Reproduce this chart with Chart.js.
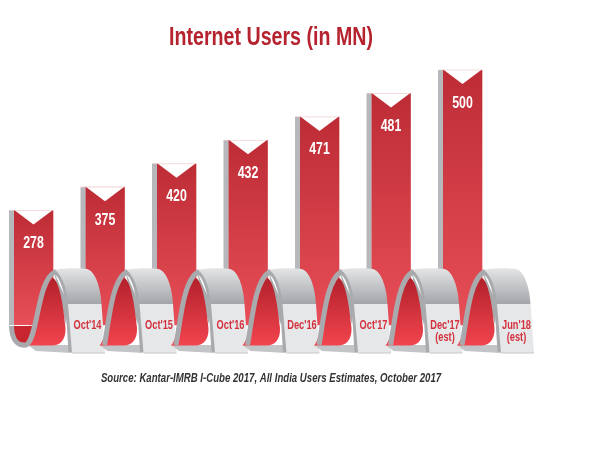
<!DOCTYPE html>
<html><head><meta charset="utf-8">
<style>html,body{margin:0;padding:0;background:#fff}#w{width:600px;height:450px}</style>
<script src="https://cdn.jsdelivr.net/npm/chart.js@4"></script>
</head><body><div id="w"><canvas id="c" width="600" height="450"></canvas></div>
<script>
const periods = [["Oct'14"], ["Oct'15"], ["Oct'16"], ["Dec'16"], ["Oct'17"], ["Dec'17","(est)"], ["Jun'18","(est)"], ""];
const users = [278, 375, 420, 432, 471, 481, 500];
const titleText = "Internet Users (in MN)";
const sourceText = "Source: Kantar-IMRB I-Cube 2017, All India Users Estimates, October 2017";

const FACE = "'Liberation Sans',sans-serif";
const CONDENSE = 0.77;

// The infographic raises each column one equal step, whatever its value.
class StepScale extends Chart.LinearScale {
  level(v) {
    const s = [...users].sort((a, b) => a - b), lead = 4.89;
    if (v <= s[0]) return v / s[0] * lead;
    for (let i = 1; i < s.length; i++)
      if (v <= s[i]) return lead + i - 1 + (v - s[i-1]) / (s[i] - s[i-1]);
    return lead + s.length - 1;
  }
  getPixelForValue(v) {
    return this.bottom - (this.bottom - this.top) * this.level(v) / (4.89 + users.length - 1);
  }
}
StepScale.id = 'step';
StepScale.defaults = Chart.LinearScale.defaults;
Chart.register(StepScale);

function vGrad(ctx, y0, y1, c0, c1) {
  const g = ctx.createLinearGradient(0, y0, 0, y1);
  g.addColorStop(0, c0); g.addColorStop(1, c1);
  return g;
}

// No condensed face is installed, so every text is squeezed horizontally about its anchor.
const condensed = {
  id: 'condensed',
  beforeInit(chart) {
    const ctx = chart.ctx, fill = ctx.fillText;
    ctx.fillText = function (t, x, y) {
      this.save(); this.translate(x, y); this.scale(CONDENSE, 1);
      fill.call(this, t, 0, 0);
      this.restore();
    };
  }
};

const ribbon = {
  id: 'ribbon',
  afterDatasetsDraw(chart) {
    const ctx = chart.ctx, bars = chart.getDatasetMeta(0).data, bottom = chart.chartArea.bottom;
    ctx.save();
    bars.forEach((b, i) => {
      const l = b.x - 19.5, r = b.x + 19.5, t = b.y;
      ctx.fillStyle = '#b7b8bb';
      ctx.fillRect(l - 5, t, 5, bottom - t);
      ctx.fillStyle = '#fff';
      ctx.beginPath(); ctx.moveTo(l - 0.5, t - 1); ctx.lineTo(b.x, t + 14); ctx.lineTo(r + 0.5, t - 1); ctx.closePath(); ctx.fill();
      ctx.strokeStyle = 'rgba(235,170,175,.55)'; ctx.lineWidth = 0.8;
      ctx.beginPath(); ctx.moveTo(l - 5, t); ctx.lineTo(r, t); ctx.stroke();
      ctx.fillStyle = '#fff';
      ctx.font = "bold 16px " + FACE;
      ctx.textAlign = 'center'; ctx.textBaseline = 'middle';
      ctx.fillText(String(users[i]), b.x, t + 33);
    });
    bars.forEach((b, i) => {
      ctx.save();
      ctx.translate(b.x - 33.5, bottom - 325);
      ctx.fillStyle = '#fff';
      ctx.beginPath(); ctx.moveTo(54, 272); ctx.lineTo(68, 304); ctx.lineTo(72, 346); ctx.lineTo(60, 346); ctx.closePath(); ctx.fill();
      ctx.fillStyle = '#c3c4c7';
      ctx.beginPath(); ctx.moveTo(28, 345); ctx.lineTo(70, 345); ctx.lineTo(72, 353); ctx.lineTo(36, 351); ctx.closePath(); ctx.fill();
      if (i === 0) {
        ctx.fillStyle = '#c9252e';
        ctx.beginPath(); ctx.moveTo(11, 326); ctx.lineTo(33, 326); ctx.lineTo(28, 345); ctx.lineTo(16, 343); ctx.closePath(); ctx.fill();
        ctx.fillStyle = 'rgba(255,255,255,.9)';
        ctx.fillRect(10, 325, 19, 1);
      }
      ctx.fillStyle = '#a9aaad';
      ctx.beginPath(); ctx.moveTo(54, 272); ctx.lineTo(68, 304); ctx.lineTo(66, 325); ctx.closePath(); ctx.fill();
      ctx.fillStyle = vGrad(ctx, 279, 346, '#b3222b', '#f2444f');
      ctx.beginPath(); ctx.moveTo(53, 278);
      ctx.bezierCurveTo(59, 281, 63, 302, 65.5, 328);
      ctx.bezierCurveTo(66, 340, 60, 345.5, 52, 345.5);
      ctx.lineTo(28, 345.5);
      ctx.bezierCurveTo(38, 335, 40, 290, 53, 278);
      ctx.closePath(); ctx.fill();
      ctx.strokeStyle = '#a9aaad'; ctx.lineWidth = 5; ctx.lineCap = 'butt';
      ctx.beginPath();
      if (i === 0) { ctx.moveTo(11.5, 326); ctx.bezierCurveTo(12, 341, 18, 346, 26, 345); ctx.bezierCurveTo(38, 340, 37, 280, 55, 272); }
      else { ctx.moveTo(33, 345); ctx.bezierCurveTo(37, 325, 40, 280, 55, 272); }
      ctx.bezierCurveTo(62, 275, 66, 290, 68, 304);
      ctx.lineTo(71, 352);
      ctx.stroke();
      ctx.fillStyle = vGrad(ctx, 268, 304, '#e4e5e7', '#a4a5a9');
      ctx.beginPath(); ctx.moveTo(55, 270);
      ctx.bezierCurveTo(62, 268, 80, 268, 87, 269);
      ctx.bezierCurveTo(97, 272, 101, 292, 101.5, 304);
      ctx.lineTo(68, 304);
      ctx.bezierCurveTo(67, 290, 63, 276, 55, 270);
      ctx.closePath(); ctx.fill();
      ctx.fillStyle = '#e6e7e9';
      ctx.beginPath(); ctx.moveTo(68, 304); ctx.lineTo(101.5, 304); ctx.lineTo(105, 353); ctx.lineTo(72, 353); ctx.closePath(); ctx.fill();
      ctx.fillStyle = '#c6c7ca'; ctx.fillRect(72, 352.5, 33, 1);
      ctx.restore();
    });
    ctx.restore();
  }
};

new Chart(document.getElementById('c'), {
  type: 'bar',
  plugins: [condensed, ribbon],
  data: {
    labels: periods,
    datasets: [{
      data: users,
      barThickness: 39,
      clip: false,
      borderWidth: 0,
      backgroundColor(c) {
        const a = c.chart.chartArea;
        if (!a || c.raw === undefined) return '#d13b44';
        const t = c.chart.scales.y.getPixelForValue(c.raw);
        return vGrad(c.chart.ctx, t, a.bottom, '#bd2c35', '#e84f58');
      }
    }]
  },
  options: {
    responsive: false,
    animation: false,
    devicePixelRatio: 1,
    layout: { padding: { left: 8, right: 66, top: 0, bottom: 64 } },
    plugins: {
      legend: { display: false },
      tooltip: { enabled: false },
      title: {
        display: true, text: titleText, color: '#b5232f',
        font: { family: FACE, size: 25.5, weight: 'bold' },
        padding: { top: 23, bottom: 16.5 }
      },
      subtitle: {
        display: true, text: sourceText, position: 'bottom', color: '#333',
        font: { family: FACE, size: 12.5, weight: 'bold', style: 'italic' },
        padding: { top: 0, bottom: 0 }
      }
    },
    scales: {
      x: {
        offset: false,
        grid: { display: false, drawTicks: false },
        border: { display: false },
        afterFit(s) { s.height = 46; s._computeLabelArea = () => null; },
        ticks: {
          z: 1, autoSkip: false, maxRotation: 0, minRotation: 0, labelOffset: 54, padding: -6,
          color: '#d3303c', font: { family: FACE, size: 12, weight: 'bold', lineHeight: 1.05 }
        }
      },
      y: {
        type: 'step', min: 0, max: 500,
        grid: { display: false },
        border: { display: false },
        ticks: { display: false },
        afterFit(s) { s.width = 25.5; }
      }
    }
  }
});
</script></body></html>
